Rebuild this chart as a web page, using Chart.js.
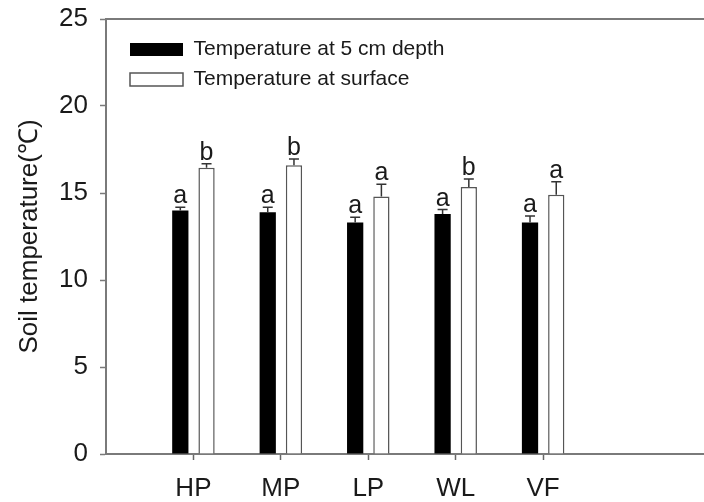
<!DOCTYPE html>
<html>
<head>
<meta charset="utf-8">
<script src="https://cdn.jsdelivr.net/npm/chart.js@4.4.1/dist/chart.umd.min.js"></script>
<style>
    body { margin: 0; background: #fff; }
    #wrap { width: 704px; height: 502px; }
</style>
</head>
<body>
<div id="wrap"><canvas id="soilChart" width="704" height="502"></canvas></div>
<script>
// Sites on the x axis, placed at 1..5 on a linear axis (the axis runs off the right edge)
const categories = ['HP', 'MP', 'LP', 'WL', 'VF'];
const xPos = [1, 2, 3, 4, 5];

// Soil temperature (°C) with standard errors
const depthTemp = [14.0, 13.9, 13.3, 13.8, 13.3];
const depthErr = [0.18, 0.28, 0.30, 0.25, 0.38];
const surfaceTemp = [16.45, 16.6, 14.8, 15.35, 14.9];
const surfaceErr = [0.23, 0.35, 0.70, 0.45, 0.75];

// Significance letters
const depthLetters = ['a', 'a', 'a', 'a', 'a'];
const surfaceLetters = ['b', 'b', 'a', 'b', 'a'];

const yTicks = [0, 5, 10, 15, 20, 25];

const FONT = "'Liberation Sans', Arial, sans-serif";
const AXIS_GRAY = '#7a7a7a';
const TEXT = '#1a1a1a';

const errors = [depthErr, surfaceErr];
const letters = [depthLetters, surfaceLetters];

// Error bars (upper half only) and letters above each bar
const errorBarPlugin = {
    id: 'errorBars',
    afterDatasetsDraw(chart) {
        const ctx = chart.ctx;
        const yScale = chart.scales.y;
        ctx.save();
        chart.data.datasets.forEach((ds, i) => {
            const meta = chart.getDatasetMeta(i);
            meta.data.forEach((bar, j) => {
                const top = yScale.getPixelForValue(ds.data[j].y + errors[i][j]);
                ctx.strokeStyle = '#333';
                ctx.lineWidth = 1.5;
                ctx.beginPath();
                ctx.moveTo(bar.x, bar.y);
                ctx.lineTo(bar.x, top);
                ctx.moveTo(bar.x - 5, top);
                ctx.lineTo(bar.x + 5, top);
                ctx.stroke();

                ctx.fillStyle = TEXT;
                ctx.font = '25px ' + FONT;
                ctx.textAlign = 'center';
                ctx.textBaseline = 'alphabetic';
                ctx.fillText(letters[i][j], bar.x, top - 4);
            });
        });
        ctx.restore();
    }
};

// Place the in-plot legend a little inside the top-left corner
const legendNudge = {
    id: 'legendNudge',
    afterLayout(chart) {
        const area = chart.chartArea;
        chart.legend.left = area.left + 15;
        chart.legend.top = area.top + 11;
    }
};

new Chart(document.getElementById('soilChart'), {
    type: 'bar',
    data: {
        datasets: [
            {
                label: 'Temperature at 5 cm depth',
                data: depthTemp.map((v, i) => ({ x: xPos[i], y: v })),
                backgroundColor: '#000',
                borderColor: '#000',
                borderWidth: 0
            },
            {
                label: 'Temperature at surface',
                data: surfaceTemp.map((v, i) => ({ x: xPos[i], y: v })),
                backgroundColor: '#fff',
                borderColor: '#555',
                borderWidth: 1.5
            }
        ]
    },
    options: {
        responsive: false,
        animation: false,
        categoryPercentage: 0.6,
        barPercentage: 0.62,
        layout: { padding: { top: 19, right: 0, left: 0, bottom: 0 } },
        plugins: {
            tooltip: { enabled: false },
            legend: {
                position: 'chartArea',
                align: 'start',
                labels: {
                    boxWidth: 53,
                    boxHeight: 13,
                    padding: 9,
                    color: TEXT,
                    font: { size: 21, family: FONT }
                }
            }
        },
        scales: {
            x: {
                type: 'linear',
                offset: false,
                min: 0,
                max: 6.84,
                afterBuildTicks: axis => { axis.ticks = xPos.map(v => ({ value: v })); },
                afterFit: scale => { scale.height = 48; },
                ticks: {
                    color: TEXT,
                    padding: 13,
                    font: { size: 26, family: FONT },
                    callback: v => categories[xPos.indexOf(v)] ?? ''
                },
                grid: {
                    offset: false,
                    drawOnChartArea: false,
                    drawTicks: true,
                    tickLength: 6,
                    tickColor: '#666',
                    tickWidth: 1.5
                },
                border: { display: true, color: AXIS_GRAY, width: 2 }
            },
            x2: {
                type: 'linear',
                position: 'top',
                afterFit: scale => { scale.height = 0; },
                ticks: { display: false },
                grid: { display: false, drawTicks: false },
                border: { display: true, color: AXIS_GRAY, width: 2 }
            },
            y: {
                min: 0,
                max: 25,
                afterBuildTicks: axis => { axis.ticks = yTicks.map(v => ({ value: v })); },
                afterFit: scale => {
                    scale.width = 106;
                    scale.paddingTop = 0;
                    scale.paddingBottom = 0;
                },
                ticks: {
                    color: TEXT,
                    padding: 12,
                    font: { size: 26, family: FONT }
                },
                grid: {
                    drawOnChartArea: false,
                    drawTicks: true,
                    tickLength: 6,
                    tickColor: AXIS_GRAY,
                    tickWidth: 1.5
                },
                border: { display: true, color: AXIS_GRAY, width: 2 },
                title: {
                    display: true,
                    text: 'Soil temperature(℃)',
                    color: TEXT,
                    padding: { top: 14, bottom: 0 },
                    font: { size: 26, family: FONT }
                }
            }
        }
    },
    plugins: [errorBarPlugin, legendNudge]
});
</script>
</body>
</html>
